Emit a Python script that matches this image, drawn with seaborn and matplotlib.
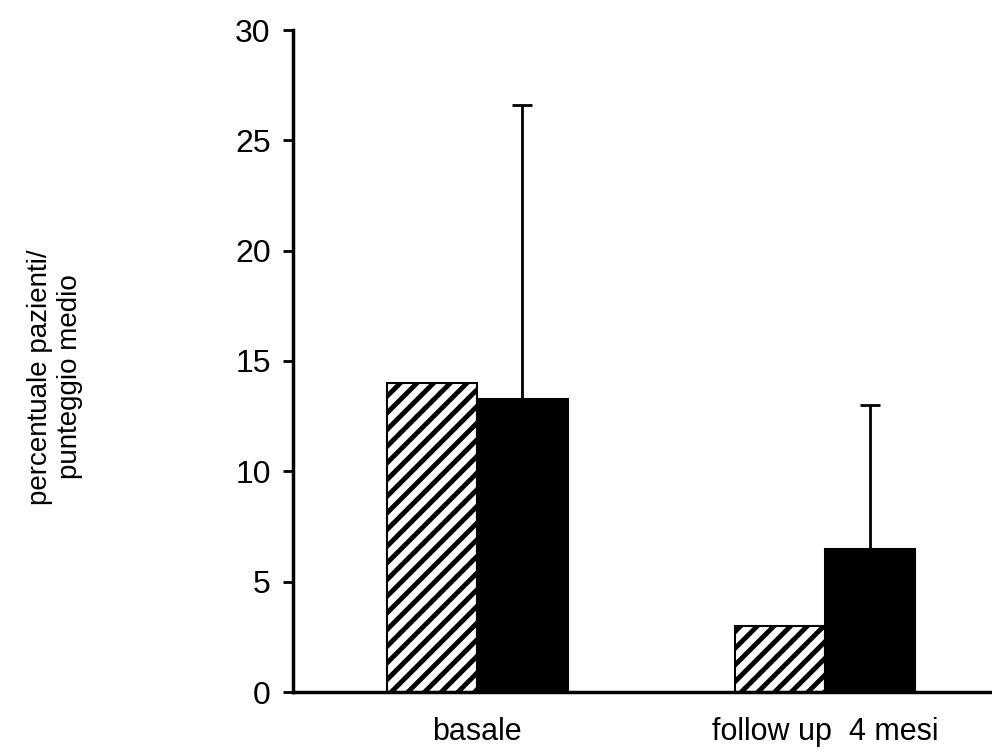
import numpy as np
import pandas as pd
import seaborn as sns
import matplotlib.pyplot as plt

categorie = ["basale", "follow up  4 mesi"]
serie = ["percentuale pazienti", "punteggio medio"]
percentuale = [14.0, 3.0]
punteggio = [13.3, 6.5]
errore_punteggio = [13.3, 6.5]

df = pd.DataFrame({
    "gruppo": categorie * 2,
    "serie": [serie[0]] * 2 + [serie[1]] * 2,
    "valore": percentuale + punteggio,
})

sns.set_style("white")
plt.rcParams['font.family'] = ['Liberation Sans', 'DejaVu Sans']
plt.rcParams['hatch.linewidth'] = 3.5
plt.rcParams['hatch.color'] = 'black'
plt.rcParams['text.color'] = 'black'
plt.rcParams['xtick.color'] = 'black'
plt.rcParams['ytick.color'] = 'black'

fig = plt.figure(figsize=(9.92, 7.54), dpi=100)
ax = fig.add_axes([293 / 992, 62 / 754, 699 / 992, 662 / 754])

sns.barplot(data=df, x="gruppo", y="valore", hue="serie", order=categorie,
            hue_order=serie, palette=["white", "black"], width=0.52,
            edgecolor="black", linewidth=1.5, errorbar=None, legend=False,
            saturation=1, ax=ax)

for i, p in enumerate(ax.patches):
    if i < len(categorie):
        p.set_hatch('//')
        p.set_facecolor('white')

# barre di errore solo verso l'alto sulle barre nere
black_bars = ax.patches[len(categorie):2 * len(categorie)]
xs = [p.get_x() + p.get_width() / 2 for p in black_bars]
ys = [p.get_height() for p in black_bars]
ax.errorbar(xs, ys, yerr=[np.zeros(len(errore_punteggio)), errore_punteggio],
            fmt='none', ecolor='black', elinewidth=2, capsize=7.5, capthick=2)

ax.set_ylim(0, 30)
ax.set_xlim(-0.529, 1.48)
ax.set_yticks(np.arange(0, 31, 5))
ax.tick_params(axis='y', direction='out', length=7, width=2, labelsize=23,
               pad=9, left=True, colors='black')
ax.tick_params(axis='x', bottom=True, length=0, labelsize=22, pad=18,
               colors='black')

for s in ['top', 'right']:
    ax.spines[s].set_visible(False)
for s in ['left', 'bottom']:
    ax.spines[s].set_color('black')
    ax.spines[s].set_linewidth(2.5)

ax.set_xlabel("")
ax.set_ylabel("")
fig.text(0.055, 0.5, "percentuale pazienti/\npunteggio medio", rotation=90,
         ha='center', va='center', fontsize=20, linespacing=1.2, color='black')

fig.savefig("out.png", dpi=100)
